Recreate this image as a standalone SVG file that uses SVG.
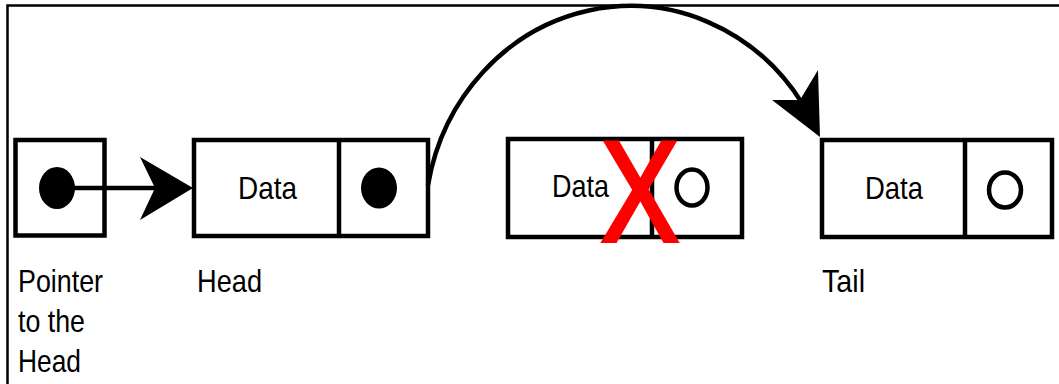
<svg xmlns="http://www.w3.org/2000/svg" width="1059" height="384" viewBox="0 0 1059 384">
<style>
.box{fill:#fff;stroke:#000;stroke-width:4.5}
.t{font-family:"Liberation Sans",Arial,sans-serif;font-size:32px;fill:#000}
.dot{fill:#000}
.hol{fill:none;stroke:#000;stroke-width:4.5}
.con{fill:none;stroke:#000;stroke-width:4.5}
</style>
<rect x="0" y="0" width="1059" height="384" fill="#fff"/>
<path d="M7.5,384 V5.5 H1059" fill="none" stroke="#000" stroke-width="2.5"/>
<g id="pointer">
<rect class="box" x="15.5" y="140" width="89" height="95.5"/>
<ellipse class="dot" cx="57" cy="188" rx="18" ry="21"/>
</g>
<g id="head">
<rect class="box" x="194" y="140" width="234" height="96"/>
<line x1="339" y1="140" x2="339" y2="236" stroke="#000" stroke-width="4.5"/>
<text class="t" x="238" y="199" textLength="59" lengthAdjust="spacingAndGlyphs">Data</text>
<ellipse class="dot" cx="379" cy="188" rx="18" ry="20.5"/>
</g>
<g id="removed">
<rect class="box" x="508" y="139" width="234" height="98"/>
<line x1="652" y1="139" x2="652" y2="237" stroke="#000" stroke-width="4.5"/>
<text class="t" x="552" y="197" textLength="57" lengthAdjust="spacingAndGlyphs">Data</text>
<ellipse class="hol" cx="692" cy="187.5" rx="15.5" ry="18"/>
<text x="601" y="241" font-family="Liberation Sans,Arial,sans-serif" font-size="142" fill="#ff0000" stroke="#ff0000" stroke-width="4" textLength="78" lengthAdjust="spacingAndGlyphs">X</text>
</g>
<g id="tail">
<rect class="box" x="822" y="140" width="230" height="97"/>
<line x1="965" y1="140" x2="965" y2="237" stroke="#000" stroke-width="4.5"/>
<text class="t" x="865" y="199" textLength="58" lengthAdjust="spacingAndGlyphs">Data</text>
<ellipse class="hol" cx="1005" cy="190" rx="16" ry="17.5"/>
</g>
<g id="labels">
<text class="t" x="18" y="292" textLength="85" lengthAdjust="spacingAndGlyphs">Pointer</text>
<text class="t" x="18" y="332" textLength="67" lengthAdjust="spacingAndGlyphs">to the</text>
<text class="t" x="18" y="372" textLength="63" lengthAdjust="spacingAndGlyphs">Head</text>
<text class="t" x="197" y="292" textLength="65" lengthAdjust="spacingAndGlyphs">Head</text>
<text class="t" x="822" y="292" textLength="43" lengthAdjust="spacingAndGlyphs">Tail</text>
</g>
<g id="connectors">
<line class="con" x1="57" y1="188" x2="156" y2="188"/>
<polygon points="140,157 193,188 140,220 155,188" fill="#000"/>
<path class="con" d="M428,185 A206,218 0 0 1 802,103"/>
<polygon points="772,100 800,100 818,70 820,137" fill="#000"/>
</g>
</svg>
